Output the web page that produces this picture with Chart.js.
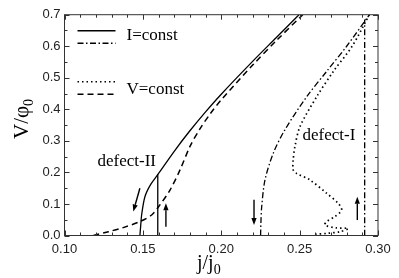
<!DOCTYPE html>
<html>
<head>
<meta charset="utf-8">
<script src="https://cdn.jsdelivr.net/npm/chart.js@4/dist/chart.umd.min.js"></script>
<style>
  html, body { margin: 0; padding: 0; background: #fff; }
  #wrap { width: 399px; height: 278px; position: relative; }
</style>
</head>
<body>
<div id="wrap"><canvas id="fig"></canvas></div>
<script>
// ---- data (j/j0, V/phi0) ----
const xTickValues = [0.10, 0.15, 0.20, 0.25, 0.30];
const yTickValues = [0.0, 0.1, 0.2, 0.3, 0.4, 0.5, 0.6, 0.7];

// defect-II, I=const (solid)
const iConstII = [[0.1481, 0.0], [0.1486, 0.03], [0.1492, 0.065], [0.1513, 0.123], [0.1550, 0.162],
  [0.1598, 0.195], [0.170, 0.267], [0.180, 0.332], [0.190, 0.392], [0.200, 0.448],
  [0.220, 0.552], [0.235, 0.627], [0.2496, 0.70]];
const iConstIIJump = [[0.1595, 0.0], [0.1595, 0.195]];

// defect-II, V=const (dashed)
const vConstII = [[0.1184, 0.0], [0.128, 0.012], [0.1375, 0.025], [0.148, 0.044], [0.1556, 0.065],
  [0.160, 0.091], [0.1673, 0.144], [0.1737, 0.208], [0.1803, 0.285], [0.1864, 0.338], [0.193, 0.386],
  [0.200, 0.430], [0.2202, 0.541], [0.236, 0.622], [0.2520, 0.70]];

// defect-I, I=const (dash-dot)
const iConstI = [[0.2251, 0.0], [0.2253, 0.04], [0.2258, 0.091], [0.2279, 0.176], [0.2332, 0.261],
  [0.2406, 0.335], [0.2545, 0.44], [0.2672, 0.52], [0.280, 0.60], [0.2931, 0.69], [0.2945, 0.70]];
const iConstIJump = [[0.2915, 0.0], [0.2915, 0.685]];

// defect-I, V=const (dotted)
const vConstI = [[0.2945, 0.70], [0.2835, 0.60], [0.2715, 0.52], [0.2609, 0.44], [0.2502, 0.345],
  [0.247, 0.282], [0.2459, 0.24], [0.2459, 0.208], [0.248, 0.197], [0.2566, 0.176], [0.2672, 0.134],
  [0.2746, 0.102], [0.2768, 0.081], [0.2725, 0.060], [0.2672, 0.044], [0.2661, 0.033], [0.2736, 0.024],
  [0.281, 0.022], [0.2757, 0.012], [0.268, 0.007], [0.2598, 0.004]];

// arrows: [fromX, fromY, toX, toY]
const arrows = [[0.1481, 0.150, 0.1439, 0.076], [0.1647, 0.028, 0.1647, 0.102],
  [0.2209, 0.113, 0.2209, 0.033], [0.2868, 0.049, 0.2868, 0.123]];

// annotations: [text, x, y]
const notes = [["defect-II", 0.1397, 0.234], ["defect-I", 0.2687, 0.316]];

const SERIF = "'Liberation Serif', 'DejaVu Serif', serif";
const SANS = "'Liberation Sans', Arial, sans-serif";

const pts = arr => arr.map(p => ({ x: p[0], y: p[1] }));
const lineDs = (arr, dash, width) => ({
  data: pts(arr),
  borderColor: "#000",
  borderWidth: width,
  borderDash: dash,
  pointRadius: 0,
  showLine: true,
  fill: false,
  tension: 0.3
});

const framePlugin = {
  id: "frame",
  afterDraw(chart) {
    const { ctx, chartArea: a, scales: { x, y } } = chart;
    ctx.save();
    ctx.strokeStyle = "#333";
    ctx.lineWidth = 1;
    ctx.strokeRect(a.left, a.top, a.right - a.left, a.bottom - a.top);

    // inward ticks on all four sides
    ctx.beginPath();
    for (let k = 0; k <= 20; k++) {
      const px = Math.round(x.getPixelForValue(0.10 + k * 0.01)) + 0.5;
      const len = k % 5 === 0 ? 5 : 3;
      ctx.moveTo(px, a.bottom); ctx.lineTo(px, a.bottom - len);
      ctx.moveTo(px, a.top); ctx.lineTo(px, a.top + len);
    }
    for (let k = 0; k <= 14; k++) {
      const py = Math.round(y.getPixelForValue(k * 0.05)) + 0.5;
      const len = k % 2 === 0 ? 5 : 3;
      ctx.moveTo(a.left, py); ctx.lineTo(a.left + len, py);
      ctx.moveTo(a.right, py); ctx.lineTo(a.right - len, py);
    }
    ctx.stroke();

    // arrows
    ctx.strokeStyle = "#000";
    ctx.fillStyle = "#000";
    ctx.lineWidth = 1.4;
    arrows.forEach(([x0, y0, x1, y1]) => {
      const ax = x.getPixelForValue(x0), ay = y.getPixelForValue(y0);
      const bx = x.getPixelForValue(x1), by = y.getPixelForValue(y1);
      const ang = Math.atan2(by - ay, bx - ax);
      const hl = 7, hw = 2.6;
      const cx = bx - hl * Math.cos(ang), cy = by - hl * Math.sin(ang);
      ctx.beginPath();
      ctx.moveTo(ax, ay); ctx.lineTo(cx, cy);
      ctx.stroke();
      ctx.beginPath();
      ctx.moveTo(bx, by);
      ctx.lineTo(cx + hw * Math.sin(ang), cy - hw * Math.cos(ang));
      ctx.lineTo(cx - hw * Math.sin(ang), cy + hw * Math.cos(ang));
      ctx.closePath();
      ctx.fill();
    });

    // annotations
    ctx.font = "17px " + SERIF;
    ctx.textAlign = "center";
    ctx.textBaseline = "middle";
    notes.forEach(([t, vx, vy]) => {
      ctx.fillText(t, x.getPixelForValue(vx), y.getPixelForValue(vy));
    });

    // legend (inside plot, top-left)
    const lx0 = a.left + 13, lx1 = a.left + 51;
    const legendRows = [[a.top + 16, []], [a.top + 28.5, [6, 2.5, 1.5, 2.5]],
      [a.top + 67, [1.5, 3]], [a.top + 79.5, [6, 4]]];
    legendRows.forEach(([ly, dash]) => {
      ctx.beginPath();
      ctx.setLineDash(dash);
      ctx.lineWidth = dash.length === 2 && dash[0] < 2 ? 1.6 : 1.4;
      ctx.moveTo(lx0, ly); ctx.lineTo(lx1, ly);
      ctx.stroke();
    });
    ctx.setLineDash([]);
    ctx.textAlign = "left";
    ctx.fillText("I=const", a.left + 62, a.top + 21);
    ctx.fillText("V=const", a.left + 62, a.top + 74.5);

    // axis titles with subscripts
    ctx.textBaseline = "alphabetic";
    ctx.font = "20px " + SERIF;
    const xt = "j/j";
    const w1 = ctx.measureText(xt).width;
    const x0 = 197;
    ctx.fillText(xt, x0, 269);
    ctx.font = "14px " + SERIF;
    ctx.fillText("0", x0 + w1, 274);

    ctx.translate(28, 139);
    ctx.rotate(-Math.PI / 2);
    ctx.font = "21px " + SERIF;
    const yt = "V/\u03c6";
    const w2 = ctx.measureText(yt).width;
    ctx.fillText(yt, 0, 0);
    ctx.font = "14px " + SERIF;
    ctx.fillText("0", w2, 5);
    ctx.restore();
  }
};

new Chart(document.getElementById("fig"), {
  type: "scatter",
  data: {
    datasets: [
      lineDs(iConstII, [], 1.3),
      lineDs(iConstIIJump, [], 1.3),
      lineDs(vConstII, [6, 4], 1.5),
      lineDs(iConstI, [6, 2.5, 1.5, 2.5], 1.3),
      lineDs(iConstIJump, [6, 2.5, 1.5, 2.5], 1.3),
      lineDs(vConstI, [1.5, 3], 1.7)
    ]
  },
  options: {
    responsive: true,
    maintainAspectRatio: false,
    animation: false,
    layout: { padding: { left: 0, right: 21, top: 14.7, bottom: 0 } },
    plugins: { legend: { display: false }, tooltip: { enabled: false } },
    scales: {
      x: {
        type: "linear",
        min: 0.10,
        max: 0.30,
        afterBuildTicks: s => { s.ticks = xTickValues.map(v => ({ value: v })); },
        afterFit: s => { s.height = 42.5; },
        grid: { display: false, drawTicks: false },
        border: { display: false },
        ticks: {
          padding: 6,
          color: "#222",
          font: { family: SANS, size: 13 },
          callback: v => v.toFixed(2)
        }
      },
      y: {
        min: 0,
        max: 0.7,
        afterBuildTicks: s => { s.ticks = yTickValues.map(v => ({ value: v })); },
        afterFit: s => { s.width = 64.5; },
        grid: { display: false, drawTicks: false },
        border: { display: false },
        ticks: {
          padding: 4,
          color: "#222",
          font: { family: SANS, size: 13 },
          callback: v => v.toFixed(1)
        }
      }
    }
  },
  plugins: [framePlugin]
});
</script>
</body>
</html>
